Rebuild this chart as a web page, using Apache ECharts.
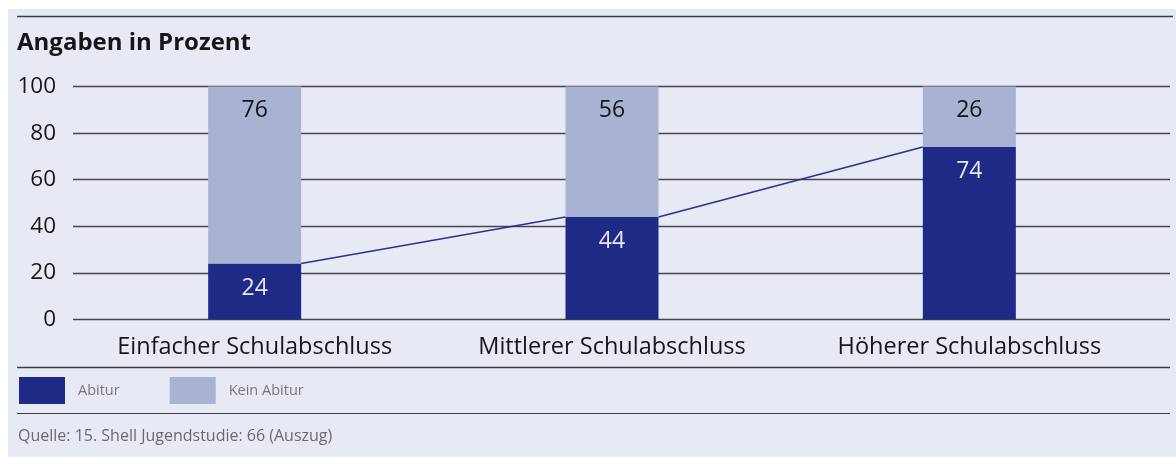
<!DOCTYPE html>
<html>
<head>
<meta charset="utf-8">
<script src="https://cdn.jsdelivr.net/npm/echarts@6/dist/echarts.min.js"></script>
<style>
html,body{margin:0;padding:0;background:#ffffff;}
#chart{width:1176px;height:459px;}
</style>
</head>
<body>
<div id="chart"></div>
<script>
// ---- data ----
const categories = ['Einfacher Schulabschluss', 'Mittlerer Schulabschluss', 'Höherer Schulabschluss'];
const abitur = [24, 44, 74];
const keinAbitur = [76, 56, 26];
const yTicks = [0, 20, 40, 60, 80, 100];
const seriesNames = ['Abitur', 'Kein Abitur'];
const titleText = 'Angaben in Prozent';
const sourceText = 'Quelle: 15. Shell Jugendstudie: 66 (Auszug)';

// ---- styles ----
const FONT = '"Open Sans", "Noto Sans", sans-serif';
const DARK = '#1d2a86';
const LIGHT = '#a8b3d4';
const PANEL = '#e7e9f5';
const GRIDC = '#45454d';
const BAR_W = 93;

// segments between consecutive Abitur bars
const segments = abitur.slice(0, -1).map((v, i) => [i, v, abitur[i + 1]]);

const chart = echarts.init(document.getElementById('chart'), null, {renderer: 'canvas'});
chart.setOption({
  backgroundColor: '#ffffff',
  animation: false,
  textStyle: {fontFamily: FONT},
  graphic: [
    {type: 'rect', z: -10, silent: true, shape: {x: 8, y: 9, width: 1168, height: 448}, style: {fill: PANEL}},
    {type: 'line', silent: true, shape: {x1: 17, y1: 16.5, x2: 1173, y2: 16.5}, style: {stroke: '#3c3c44', lineWidth: 1.5}},
    {type: 'line', silent: true, shape: {x1: 17, y1: 367.5, x2: 1170, y2: 367.5}, style: {stroke: '#3c3c44', lineWidth: 1.5}},
    {type: 'line', silent: true, shape: {x1: 17, y1: 413.5, x2: 1170, y2: 413.5}, style: {stroke: '#3c3c44', lineWidth: 1.2}},
    {type: 'text', left: 18, top: 428, style: {text: sourceText, font: '16px ' + FONT, fill: '#6a6a70'}}
  ],
  title: {
    text: titleText, left: 12, top: 26,
    textStyle: {fontFamily: FONT, fontSize: 24, fontWeight: 'bold', color: '#161616'}
  },
  legend: {
    data: seriesNames, left: 14, top: 372,
    icon: 'rect', itemWidth: 46, itemHeight: 27, itemGap: 50,
    textStyle: {fontFamily: FONT, fontSize: 14.5, color: '#77777c', padding: [0, 0, 0, 8]}
  },
  grid: [
    {left: 73, right: 6, top: 86.5, bottom: 139.5},
    {left: 76, right: 28, top: 86.5, bottom: 139.5}
  ],
  xAxis: [
    {type: 'category', gridIndex: 0, data: categories, show: false},
    {
      type: 'category', gridIndex: 1, data: categories,
      axisLine: {show: false}, axisTick: {show: false},
      axisLabel: {interval: 0, margin: 16, fontFamily: FONT, fontSize: 23.5, color: '#161616'}
    }
  ],
  yAxis: [
    {
      type: 'value', gridIndex: 0, min: 0, max: 100, interval: 20,
      axisLine: {show: false}, axisTick: {show: false},
      axisLabel: {margin: 17, fontFamily: FONT, fontSize: 22.5, color: '#161616',
        formatter: v => yTicks.includes(v) ? String(v) : ''},
      splitLine: {lineStyle: {color: GRIDC, width: 1.3}}
    },
    {
      type: 'value', gridIndex: 1, min: 0, max: 100, interval: 20, show: false,
      splitLine: {show: false}
    }
  ],
  series: [
    {
      name: seriesNames[0], type: 'bar', stack: 'total', xAxisIndex: 1, yAxisIndex: 1,
      barWidth: BAR_W, data: abitur, itemStyle: {color: DARK},
      label: {show: true, position: 'insideTop', distance: 13, color: '#e4e7f6',
        fontFamily: FONT, fontSize: 23}
    },
    {
      name: seriesNames[1], type: 'bar', stack: 'total', xAxisIndex: 1, yAxisIndex: 1,
      barWidth: BAR_W, data: keinAbitur, itemStyle: {color: LIGHT},
      label: {show: true, position: 'insideTop', distance: 12, color: '#141414',
        fontFamily: FONT, fontSize: 23}
    },
    {
      type: 'custom', xAxisIndex: 1, yAxisIndex: 1, z: 5,
      data: segments,
      renderItem: function (params, api) {
        const p1 = api.coord([api.value(0), api.value(1)]);
        const p2 = api.coord([api.value(0) + 1, api.value(2)]);
        return {
          type: 'line',
          shape: {x1: p1[0] + BAR_W / 2, y1: p1[1], x2: p2[0] - BAR_W / 2, y2: p2[1]},
          style: {stroke: '#27338f', lineWidth: 1.6}
        };
      }
    }
  ]
});
</script>
</body>
</html>
